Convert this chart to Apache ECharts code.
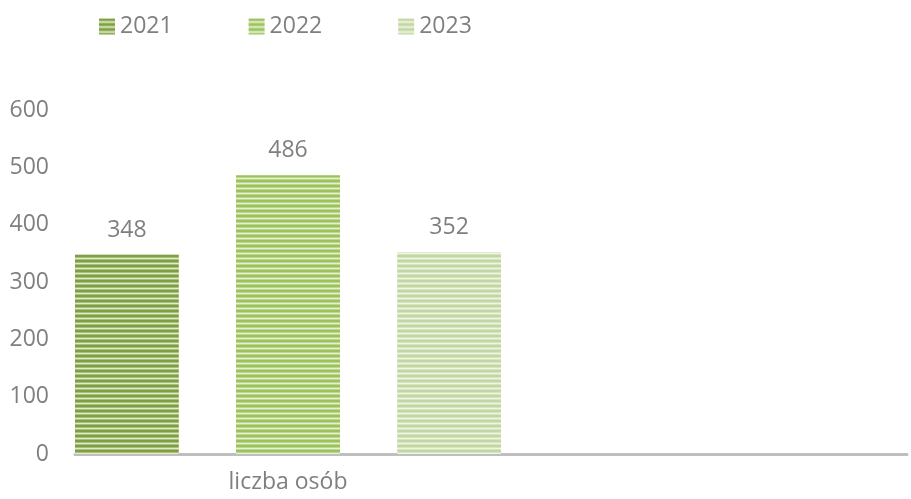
<!DOCTYPE html>
<html>
<head>
<meta charset="utf-8">
<script src="https://cdn.jsdelivr.net/npm/echarts@6/dist/echarts.min.js"></script>
<style>
  html, body { margin: 0; padding: 0; background: #fff; }
  #main { width: 911px; height: 499px; }
</style>
</head>
<body>
<div id="main"></div>
<script>
// dane
const categories = ['liczba osób'];
const seriesNames = ['2021', '2022', '2023'];
const values2021 = [348];
const values2022 = [486];
const values2023 = [352];
const yTicks = [0, 100, 200, 300, 400, 500, 600];

// paski poziome (kolor ciemny, pośredni, jasny)
const stripeColors = [
    ['#7f9f45', '#a8c179', '#e0eacd'],
    ['#9bc35a', '#bdd78f', '#e7f0d6'],
    ['#c3d7a2', '#d6e4bf', '#eff5e5']
];

function makePattern(c) {
    let cv = document.createElement('canvas');
    cv.width = 4;
    cv.height = 5;
    let ctx = cv.getContext('2d');
    let rows = [c[0], c[0], c[1], c[2], c[1]];
    rows.forEach((col, i) => {
        ctx.fillStyle = col;
        ctx.fillRect(0, i, 4, 1);
    });
    return { image: cv, repeat: 'repeat' };
}

const textColor = '#7f7f7f';
const fontFamily = '"Open Sans", "Noto Sans", sans-serif';

const chart = echarts.init(document.getElementById('main'));
const allValues = [values2021, values2022, values2023];

chart.setOption({
    animation: false,
    textStyle: { fontFamily: fontFamily },
    legend: {
        top: 15,
        left: 99,
        padding: 0,
        icon: 'rect',
        itemWidth: 16,
        itemHeight: 16,
        itemGap: 76,
        data: seriesNames,
        textStyle: { fontSize: 23, color: textColor, fontFamily: fontFamily }
    },
    grid: [
        { left: 75, right: 4, top: 110, bottom: 45 },
        { left: 75, width: 426, top: 110, bottom: 45 }
    ],
    xAxis: [
        {
            gridIndex: 0,
            type: 'category',
            data: [''],
            axisLine: { lineStyle: { color: '#bfbfbf', width: 3 } },
            axisTick: { show: false },
            axisLabel: { show: false }
        },
        {
            gridIndex: 1,
            type: 'category',
            data: categories,
            axisLine: { show: false },
            axisTick: { show: false },
            axisLabel: { fontSize: 23, color: textColor, margin: 17 }
        }
    ],
    yAxis: [
        {
            gridIndex: 0,
            type: 'value',
            min: yTicks[0],
            max: yTicks[yTicks.length - 1],
            interval: yTicks[1] - yTicks[0],
            axisLine: { show: false },
            axisTick: { show: false },
            splitLine: { show: false },
            axisLabel: { fontSize: 23, color: textColor, margin: 26 }
        },
        {
            gridIndex: 1,
            type: 'value',
            min: yTicks[0],
            max: yTicks[yTicks.length - 1],
            show: false
        }
    ],
    series: seriesNames.map((name, i) => ({
        name: name,
        type: 'bar',
        xAxisIndex: 1,
        yAxisIndex: 1,
        barWidth: 104,
        barGap: '55%',
        data: allValues[i],
        itemStyle: { color: makePattern(stripeColors[i]) },
        label: {
            show: true,
            position: 'top',
            distance: 13,
            fontSize: 23,
            color: textColor
        }
    }))
});
</script>
</body>
</html>
